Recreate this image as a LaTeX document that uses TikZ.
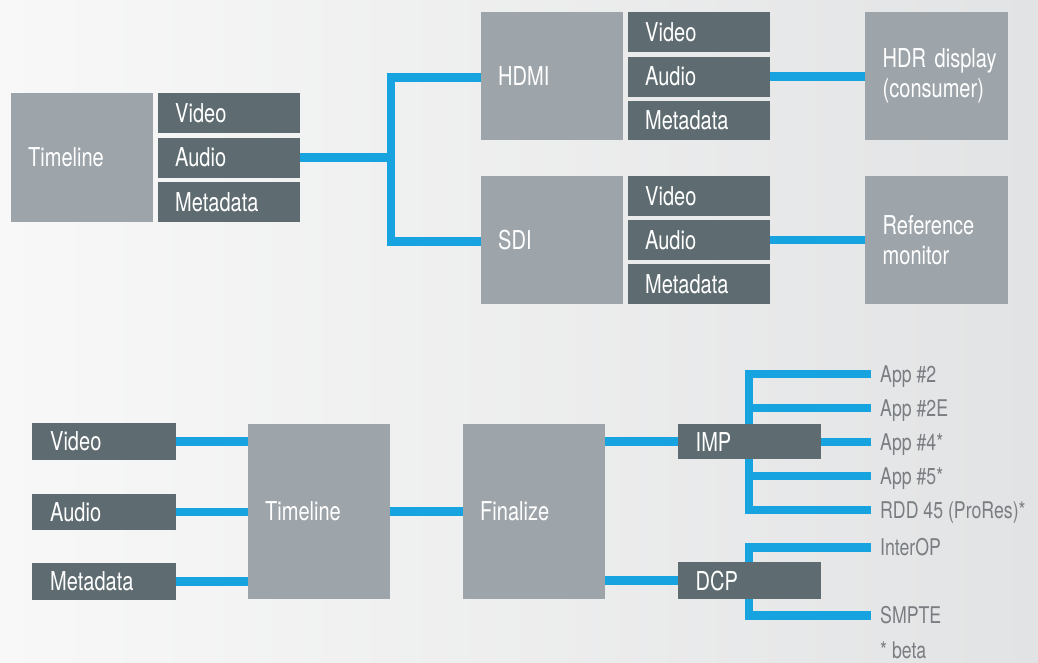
\documentclass[tikz,border=0pt]{standalone}
\usepackage{fontspec}
\setmainfont{TeX Gyre Heros}[FakeStretch=0.77]
\definecolor{lgray}{RGB}{157,164,170}
\definecolor{dgray}{RGB}{94,108,113}
\definecolor{cblue}{RGB}{22,163,224}
\definecolor{labgray}{RGB}{122,126,130}
\definecolor{bgL}{RGB}{248,248,248}
\definecolor{bgR}{RGB}{226,227,228}
\tikzset{
  x=1pt, y=-1pt,
  boxbase/.style={anchor=north west, minimum width=142pt, text width=108pt,
    inner xsep=17pt, inner ysep=0pt, align=left, text=white,
    font=\fontsize{26}{30}\selectfont},
  bigbox/.style={boxbase, fill=lgray},
  smallbox/.style={boxbase, fill=dgray},
  conn/.style={draw=cblue, line width=8.5pt, line join=miter},
  lab/.style={anchor=west, inner xsep=9pt, inner ysep=0pt, text height=16pt,
    text depth=0pt, text=labgray, font=\fontsize{23}{26}\selectfont}
}
\begin{document}
\begin{tikzpicture}
\useasboundingbox (0,0) rectangle (1038,662);
\shade[left color=bgL, right color=bgR] (0,0) rectangle (1038,662);

% ---------- top nodes ----------
\node[bigbox, minimum height=129pt] (TL1) at (11,93) {Timeline};
\node[smallbox, minimum height=40pt] (tV) at (158,93) {Video};
\node[smallbox, minimum height=40pt] (tA) at (158,137.5) {Audio};
\node[smallbox, minimum height=40pt] (tM) at (158,182) {Metadata};

\node[bigbox, minimum height=128pt] (HDMI) at (481,12) {HDMI};
\node[smallbox, minimum height=40pt] (hV) at (628,12) {Video};
\node[smallbox, minimum height=40pt] (hA) at (628,56.5) {Audio};
\node[smallbox, minimum height=39pt] (hM) at (628,101) {Metadata};

\node[bigbox, minimum height=128pt] (SDI) at (481,176) {SDI};
\node[smallbox, minimum height=40pt] (sV) at (628,176) {Video};
\node[smallbox, minimum height=40pt] (sA) at (628,220) {Audio};
\node[smallbox, minimum height=40pt] (sM) at (628,264) {Metadata};

\node[bigbox, minimum height=128pt, minimum width=143pt] (HDR) at (865,12) {\mbox{HDR display}\\\mbox{(consumer)}};
\node[bigbox, minimum height=128pt, minimum width=143pt] (REF) at (865,176) {Reference\\monitor};

% ---------- top connectors ----------
\coordinate (jx) at (391,0);
\draw[conn] (tA.east) -- (tA.east -| jx);
\draw[conn] ([yshift=-1.5pt]HDMI.west) -- ([yshift=-1.5pt]HDMI.west -| jx) -- ([yshift=-1.5pt]SDI.west -| jx) -- ([yshift=-1.5pt]SDI.west);
\draw[conn] (hA.east) -- (hA.east -| HDR.west);
\draw[conn] (sA.east) -- (sA.east -| REF.west);

% ---------- bottom labels ----------
\node[lab] (a1) at (871,374) {App \#2};
\node[lab] (a2) at (871,408) {App \#2E};
\node[lab] (a3) at (871,442) {App \#4*};
\node[lab] (a4) at (871,476) {App \#5*};
\node[lab] (a5) at (871,510) {RDD 45 (ProRes)*};
\node[lab] (i1) at (871,547.5) {InterOP};
\node[lab] (i2) at (871,615.5) {SMPTE};
\node[lab] (beta) at (871,650) {* beta};

% ---------- bottom branch connectors (behind boxes) ----------
\coordinate (bx) at (749,0);
\draw[conn] (a1.west) -- (a1.west -| bx) -- (a5.west -| bx) -- (a5.west);
\draw[conn] (a2.west) -- (a2.west -| bx);
\draw[conn] (a3.west) -- (a3.west -| bx);
\draw[conn] (a4.west) -- (a4.west -| bx);
\draw[conn] (i1.west) -- (i1.west -| bx) -- (i2.west -| bx) -- (i2.west);

% ---------- bottom nodes ----------
\node[smallbox, minimum width=144pt, minimum height=37pt] (bV) at (32,423) {Video};
\node[smallbox, minimum width=144pt, minimum height=36pt] (bA) at (32,494) {Audio};
\node[smallbox, minimum width=144pt, minimum height=37pt] (bM) at (32,563) {Metadata};
\node[bigbox, minimum width=141pt, minimum height=175pt] (TL2) at (248,424) {Timeline};
\node[bigbox, minimum height=175pt] (FIN) at (463,424) {Finalize};
\node[smallbox, minimum width=143pt, minimum height=35pt] (IMP) at (678,424) {IMP};
\node[smallbox, minimum width=143pt, minimum height=37pt] (DCP) at (678,562) {DCP};

% ---------- bottom connectors ----------
\draw[conn] (bV.east) -- (bV.east -| TL2.west);
\draw[conn] (bA.east) -- (bA.east -| TL2.west);
\draw[conn] (bM.east) -- (bM.east -| TL2.west);
\draw[conn] (TL2.east) -- (TL2.east -| FIN.west);
\draw[conn] (IMP.west -| FIN.east) -- (IMP.west);
\draw[conn] (DCP.west -| FIN.east) -- (DCP.west);
\end{tikzpicture}
\end{document}
